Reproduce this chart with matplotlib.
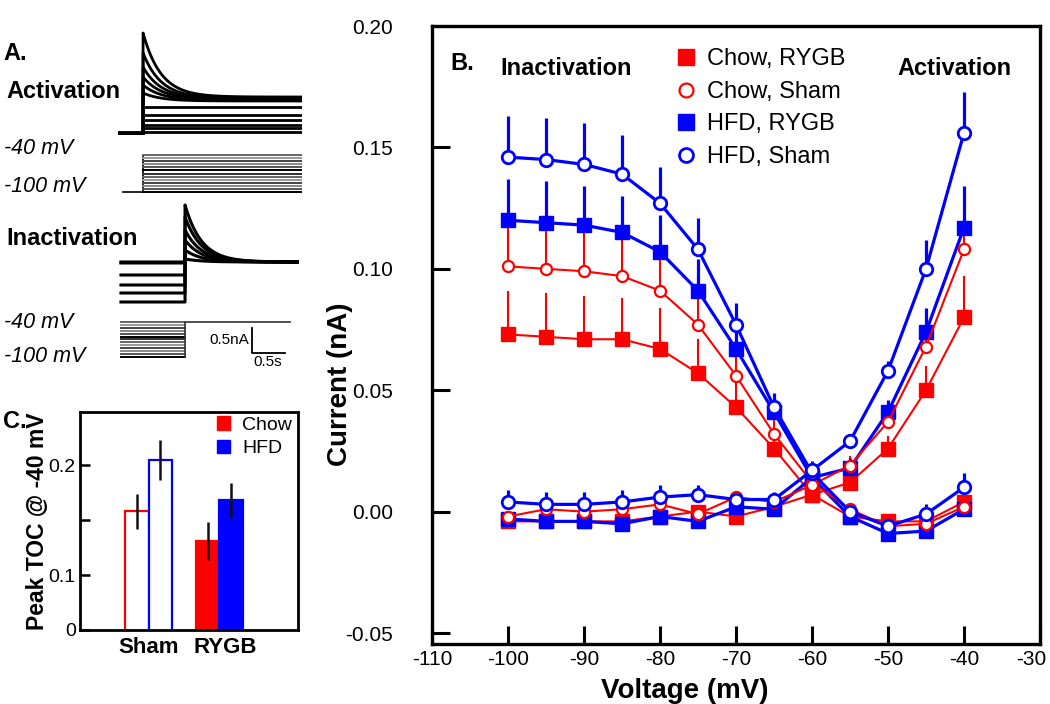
import numpy as np
import matplotlib
matplotlib.use("Agg")
import matplotlib.pyplot as plt
from matplotlib.lines import Line2D
from matplotlib.patches import Patch
from matplotlib.ticker import FormatStrFormatter
from matplotlib.transforms import ScaledTranslation

plt.rcParams['font.family'] = ['Liberation Sans', 'DejaVu Sans']
plt.rcParams['axes.unicode_minus'] = False

# ---------------- data: panel B (current-voltage) ----------------
voltage = [-100, -95, -90, -85, -80, -75, -70, -65, -60, -55, -50, -45, -40]

inact_chow_rygb = [0.073, 0.072, 0.071, 0.071, 0.067, 0.057, 0.043, 0.026, 0.007, -0.002, -0.004, -0.004, 0.004]
inact_chow_rygb_err = [0.018, 0.018, 0.018, 0.017, 0.017, 0.014, 0.018, 0.010, 0.004, 0.002, 0.002, 0.002, 0.003]
inact_chow_sham = [0.101, 0.100, 0.099, 0.097, 0.091, 0.077, 0.056, 0.032, 0.012, 0.001, -0.006, -0.005, 0.002]
inact_chow_sham_err = [0.019, 0.019, 0.019, 0.019, 0.020, 0.020, 0.018, 0.010, 0.004, 0.002, 0.002, 0.002, 0.002]
inact_hfd_rygb = [0.120, 0.119, 0.118, 0.115, 0.107, 0.091, 0.067, 0.041, 0.014, -0.002, -0.009, -0.008, 0.001]
inact_hfd_rygb_err = [0.017, 0.017, 0.016, 0.015, 0.015, 0.013, 0.010, 0.006, 0.003, 0.002, 0.002, 0.002, 0.003]
inact_hfd_sham = [0.146, 0.145, 0.143, 0.139, 0.127, 0.108, 0.077, 0.043, 0.016, 0.000, -0.006, -0.001, 0.010]
inact_hfd_sham_err = [0.017, 0.017, 0.017, 0.016, 0.015, 0.013, 0.009, 0.006, 0.004, 0.003, 0.003, 0.004, 0.006]

act_chow_rygb = [-0.004, -0.004, -0.004, -0.004, -0.002, 0.000, -0.002, 0.002, 0.007, 0.012, 0.026, 0.050, 0.080]
act_chow_rygb_err = [0.002, 0.002, 0.002, 0.002, 0.002, 0.002, 0.002, 0.002, 0.003, 0.004, 0.005, 0.010, 0.017]
act_chow_sham = [-0.002, 0.001, 0.000, 0.001, 0.003, -0.001, 0.006, 0.004, 0.011, 0.019, 0.037, 0.068, 0.108]
act_chow_sham_err = [0.002, 0.002, 0.002, 0.002, 0.002, 0.002, 0.002, 0.002, 0.003, 0.004, 0.005, 0.008, 0.010]
act_hfd_rygb = [-0.003, -0.004, -0.004, -0.005, -0.002, -0.004, 0.002, 0.001, 0.014, 0.018, 0.041, 0.074, 0.117]
act_hfd_rygb_err = [0.002, 0.002, 0.002, 0.002, 0.002, 0.002, 0.002, 0.002, 0.003, 0.004, 0.005, 0.010, 0.017]
act_hfd_sham = [0.004, 0.003, 0.003, 0.004, 0.006, 0.007, 0.005, 0.005, 0.017, 0.029, 0.058, 0.100, 0.156]
act_hfd_sham_err = [0.005, 0.005, 0.005, 0.005, 0.005, 0.004, 0.003, 0.003, 0.004, 0.003, 0.004, 0.012, 0.017]

legend_labels = ["Chow, RYGB", "Chow, Sham", "HFD, RYGB", "HFD, Sham"]

# ---------------- data: panel C (peak TOC at -40 mV) ----------------
groups = ["Sham", "RYGB"]
chow_toc = [0.158, 0.131]
chow_toc_err = [0.016, 0.017]
hfd_toc = [0.205, 0.168]
hfd_toc_err = [0.018, 0.016]

# ---------------- data: panel A (example traces) ----------------
act_peak_nA = [2.00, 1.60, 1.32, 1.12, 0.96, 0.80, 0.52, 0.36, 0.26, 0.16, 0.10, 0.02]
act_ss_nA = [0.72, 0.70, 0.69, 0.68, 0.66, 0.64, 0.52, 0.36, 0.26, 0.16, 0.10, 0.02]
act_tau_s = 0.27
inact_pre_nA = [-0.80, -0.62, -0.46, -0.26, -0.02, 0.00]
inact_peak_nA = [1.14, 0.90, 0.64, 0.44, 0.24, 0.06]
inact_tau_s = 0.25
step_mv = [-100, -95, -90, -85, -80, -75, -70, -65, -60, -55, -50, -45, -40]

RED = '#ff0000'
BLUE = '#0000ff'
W, H = 1050, 704
fig = plt.figure(figsize=(W / 100, H / 100), dpi=100)


def px_axes(x0, y0, x1, y1):
    return fig.add_axes([x0 / W, 1 - y1 / H, (x1 - x0) / W, (y1 - y0) / H])


def ftext(x, y, s, **kw):
    fig.text(x / W, 1 - y / H, s, **kw)


# ================= Panel B =================
ax = px_axes(432, 26, 1040, 644)
series = [
    (inact_chow_rygb, inact_chow_rygb_err, RED, 's', 'filled'),
    (act_chow_rygb, act_chow_rygb_err, RED, 's', 'filled'),
    (inact_chow_sham, inact_chow_sham_err, RED, 'o', 'open'),
    (act_chow_sham, act_chow_sham_err, RED, 'o', 'open'),
    (inact_hfd_rygb, inact_hfd_rygb_err, BLUE, 's', 'filled'),
    (act_hfd_rygb, act_hfd_rygb_err, BLUE, 's', 'filled'),
    (inact_hfd_sham, inact_hfd_sham_err, BLUE, 'o', 'open'),
    (act_hfd_sham, act_hfd_sham_err, BLUE, 'o', 'open'),
]
for vals, err, col, mk, fill in series:
    lw = 2.3 if col == BLUE else 1.5
    v = np.array(vals)
    e = np.array(err)
    ax.errorbar(voltage, v, yerr=[np.zeros_like(e), e], fmt='none', ecolor=col,
                elinewidth=lw, capsize=0, zorder=2)
    if fill == 'filled':
        ms = 10 if col == BLUE else 9.5
        ax.plot(voltage, v, color=col, lw=lw, marker=mk, ms=ms, mfc=col, mec=col, zorder=3)
    else:
        ms = 9 if col == BLUE else 8
        ax.plot(voltage, v, color=col, lw=lw, marker=mk, ms=ms, mfc='white', mec=col,
                mew=2.0 if col == BLUE else 1.6, zorder=4)

ax.set_xlim(-110, -30)
ax.set_ylim(-0.0545, 0.20)
ax.set_xticks(np.arange(-110, -29, 10))
ax.set_yticks([-0.05, 0.0, 0.05, 0.10, 0.15, 0.20])
ax.yaxis.set_major_formatter(FormatStrFormatter('%.2f'))
ax.tick_params(direction='in', length=13, width=2.2, labelsize=15)
ax.tick_params(axis='y', pad=28)
ax.tick_params(axis='x', pad=4)
for sp in ax.spines.values():
    sp.set_linewidth(2.4)
fig.canvas.draw()
xt_labels = ax.get_xticklabels()
xt_labels[-1].set_transform(xt_labels[-1].get_transform() +
                            ScaledTranslation(-9 / 100, 0, fig.dpi_scale_trans))
ax.set_xlabel("Voltage (mV)", fontsize=20, fontweight='bold')
ax.xaxis.set_label_coords(0.416, -0.055)
ax.set_ylabel("Current (nA)", fontsize=20, fontweight='bold')
ax.yaxis.set_label_coords(-0.13, 0.42)

ax.text(0.03, 0.94, "B.", transform=ax.transAxes, fontsize=17, fontweight='bold', va='center')
ax.text(0.22, 0.932, "Inactivation", transform=ax.transAxes, fontsize=17, fontweight='bold',
        ha='center', va='center')
ax.text(0.86, 0.932, "Activation", transform=ax.transAxes, fontsize=17, fontweight='bold',
        ha='center', va='center')

handles = [
    Line2D([], [], ls='none', marker='s', ms=11, mfc=RED, mec=RED),
    Line2D([], [], ls='none', marker='o', ms=10, mfc='white', mec=RED, mew=1.6),
    Line2D([], [], ls='none', marker='s', ms=11, mfc=BLUE, mec=BLUE),
    Line2D([], [], ls='none', marker='o', ms=10, mfc='white', mec=BLUE, mew=2.0),
]
ax.legend(handles, legend_labels, loc='upper left', bbox_to_anchor=(0.4, 0.964),
          frameon=False, fontsize=17, handlelength=0.9, handletextpad=0.45,
          labelspacing=0.45, borderpad=0, borderaxespad=0)

# ================= Panel C =================
axc = px_axes(80, 412, 298, 630)
xpos = np.arange(1, len(groups) + 1)
bw = 0.325
for i, g in enumerate(groups):
    is_open = (g == "Sham")
    axc.bar(xpos[i] - bw / 2, chow_toc[i], width=bw, color='white' if is_open else RED,
            edgecolor=RED, linewidth=1.6, zorder=2)
    axc.bar(xpos[i] + bw / 2, hfd_toc[i], width=bw, color='white' if is_open else BLUE,
            edgecolor=BLUE, linewidth=1.6, zorder=2)
axc.errorbar(xpos - bw / 2, chow_toc, yerr=chow_toc_err, fmt='none', ecolor='#111111',
             elinewidth=1.8, capsize=0, zorder=3)
axc.errorbar(xpos + bw / 2, hfd_toc, yerr=hfd_toc_err, fmt='none', ecolor='#111111',
             elinewidth=1.8, capsize=0, zorder=3)
axc.set_xlim(0.035, 3.106)
axc.set_ylim(0.05, 0.2485)
axc.set_yticks([0.05, 0.1, 0.15, 0.2])
axc.set_yticklabels(['0', '0.1', '', '0.2'])
axc.set_xticks(xpos + [0.0, 0.08])
axc.set_xticklabels(groups, fontsize=16, fontweight='bold')
axc.tick_params(axis='x', length=0, pad=5)
axc.tick_params(axis='y', direction='in', length=7, width=1.8, labelsize=14, pad=3)
for sp in axc.spines.values():
    sp.set_linewidth(2.0)
axc.set_ylabel("Peak TOC @ -40 mV", fontsize=16.5, fontweight='bold')
axc.yaxis.set_label_coords(-0.14, 0.5)
axc.legend([Patch(facecolor=RED, edgecolor=RED), Patch(facecolor=BLUE, edgecolor=BLUE)],
           ["Chow", "HFD"], loc='upper right', bbox_to_anchor=(0.99, 1.0), frameon=False,
           fontsize=14, handlelength=0.7, handleheight=0.7, handletextpad=0.6,
           labelspacing=0.32, borderpad=0.2, borderaxespad=0)
ftext(3, 421, "C.", fontsize=17, fontweight='bold', va='center')

# ================= Panel A =================
ftext(3, 53, "A.", fontsize=17, fontweight='bold', va='center')
ftext(6, 92, "Activation", fontsize=17, fontweight='bold', va='center')
ftext(4, 149, "-40 mV", fontsize=15.5, style='italic', va='center')
ftext(4, 186, "-100 mV", fontsize=15.5, style='italic', va='center')
ftext(6, 238, "Inactivation", fontsize=17, fontweight='bold', va='center')
ftext(4, 322, "-40 mV", fontsize=15.5, style='italic', va='center')
ftext(4, 357, "-100 mV", fontsize=15.5, style='italic', va='center')

# activation current traces (time in s, current in nA)
axa = px_axes(118, 28, 302, 140)
axa.set_xlim(-0.38, 2.41)
axa.set_ylim(-0.14, 2.10)
axa.axis('off')
t_pre = np.array([-0.38, 0.0])
t_post = np.linspace(0, 2.41, 400)
for pk, ss in zip(act_peak_nA, act_ss_nA):
    cur = ss + (pk - ss) * np.exp(-t_post / act_tau_s)
    axa.plot(np.r_[t_pre, t_post], np.r_[[0, 0], cur], color='black', lw=2.0)

# activation voltage protocol
axv = px_axes(118, 150, 302, 197)
axv.set_xlim(-0.38, 2.41)
axv.set_ylim(-108.1, -31.9)
axv.axis('off')
grays = ['#000000', '#555555', '#888888', '#444444', '#999999', '#666666', '#333333']
axv.plot([-0.30, 0, 0], [-100, -100, -40], color='black', lw=1.2)
for i, mv in enumerate(step_mv):
    axv.plot([0, 2.41], [mv, mv], color=grays[i % len(grays)], lw=1.4)

# inactivation current traces
axi = px_axes(115, 198, 300, 310)
axi.set_xlim(-1.06, 1.74)
axi.set_ylim(-0.96, 1.28)
axi.axis('off')
t_post_i = np.linspace(0, 1.70, 300)
for pre, pk in zip(inact_pre_nA, inact_peak_nA):
    cur = pk * np.exp(-t_post_i / inact_tau_s)
    axi.plot(np.r_[-0.97, 0.0, t_post_i], np.r_[pre, pre, cur], color='black', lw=2.2)

# inactivation voltage protocol
axiv = px_axes(115, 315, 300, 362)
axiv.set_xlim(-1.06, 1.74)
axiv.set_ylim(-108.6, -28.0)
axiv.axis('off')
for i, mv in enumerate(step_mv):
    axiv.plot([-0.97, 0], [mv, mv], color=grays[i % len(grays)], lw=1.4)
axiv.plot([0, 0, 1.59], [-100, -40, -40], color='#333333', lw=1.2)

# scale bar (0.5 nA, 0.5 s)
axs = px_axes(200, 320, 300, 370)
axs.set_xlim(0, 100 / 66)
axs.set_ylim(0, 1.0)
axs.axis('off')
axs.plot([0.788, 0.788, 1.288], [0.84, 0.34, 0.34], color='black', lw=1.3)
ftext(249, 340, "0.5nA", fontsize=11, ha='right', va='center')
ftext(268, 362, "0.5s", fontsize=11, ha='center', va='center')

fig.savefig("out.png", dpi=100)
